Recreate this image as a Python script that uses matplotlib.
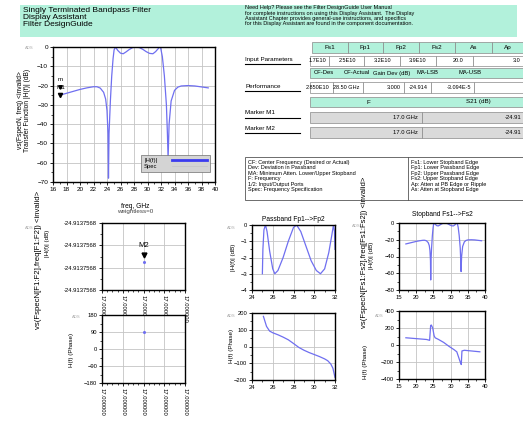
import numpy as np
import matplotlib
matplotlib.use('Agg')
import matplotlib.pyplot as plt
from matplotlib.patches import Rectangle
from matplotlib.lines import Line2D
from matplotlib.ticker import FormatStrFormatter, AutoMinorLocator

plt.rcParams['font.family'] = ['Liberation Sans', 'DejaVu Sans']

main_f = [17.0, 18.0, 19.0, 20.0, 21.0, 22.0, 22.5, 23.0, 23.5, 23.8, 24.0, 24.15, 24.22, 24.3,
          24.5, 24.7, 24.9, 25.05, 25.25, 25.6, 26.0, 26.4, 26.8, 27.3, 27.8, 28.3, 28.8, 29.3,
          29.8, 30.3, 30.8, 31.2, 31.5, 31.8, 31.95, 32.2, 32.5, 32.8, 32.95, 33.05, 33.2, 33.5,
          34.0, 34.5, 35.0, 36.0, 37.0, 38.0, 39.0]
main_db = [-25.0, -24.0, -23.0, -22.0, -21.2, -20.6, -20.6, -21.3, -23.5, -27.0, -33.0, -45.0,
           -68.0, -45.0, -28.0, -15.0, -6.0, -1.5, 0.0, -1.8, -3.2, -3.5, -2.6, -1.3, -0.3, 0.0,
           -0.3, -1.2, -2.4, -3.3, -3.5, -2.4, -1.2, 0.0, -0.5, -5.0, -15.0, -30.0, -45.0, -58.0,
           -40.0, -28.0, -22.5, -20.8, -20.2, -20.0, -20.2, -20.7, -21.2]
spec_f = [22.0, 23.0, 24.0]
spec_db = [-20.0, -20.0, -20.0]
spec_f2 = [34.0, 35.0, 36.0]
spec_db2 = [-20.0, -20.0, -20.0]

m1_f, m1_db = 17.0, -24.9137568
m2_f, m2_db, m2_ph = 17.0, -24.9137568, 88.0

pb_f = [25.0, 25.05, 25.15, 25.3, 25.45, 25.7, 26.0, 26.2, 26.5, 27.0, 27.5, 28.0, 28.3, 28.7,
        29.2, 29.7, 30.2, 30.6, 31.0, 31.4, 31.7, 31.85, 31.95, 32.0]
pb_db = [-3.0, -1.5, -0.3, 0.0, -0.4, -1.6, -2.7, -3.0, -2.8, -2.0, -1.0, -0.15, 0.0, -0.4,
         -1.3, -2.2, -2.8, -3.0, -2.7, -1.7, -0.6, 0.0, -0.4, -1.5]
pb_ph_f = [25.1, 25.4, 25.7, 26.0, 26.5, 27.0, 27.5, 28.0, 28.5, 29.0, 29.5, 30.0, 30.5, 31.0,
           31.3, 31.6, 31.8, 32.0]
pb_ph = [180, 120, 92, 82, 70, 56, 40, 18, -5, -22, -36, -48, -60, -74, -85, -105, -130, -185]

sb_ph_f = [17.0, 20.0, 23.0, 23.9, 24.2, 24.4, 24.8, 25.2, 25.5, 26.5, 28.0, 29.5, 31.0, 31.8,
           32.3, 32.8, 33.1, 33.3, 34.0, 36.0, 38.5]
sb_ph = [85, 75, 65, 55, 230, 235, 200, 110, 85, 65, 30, -15, -55, -80, -140, -200, -230, -70,
         -62, -70, -80]

in_head = ['Fs1', 'Fp1', 'Fp2', 'Fs2', 'As', 'Ap']
in_vals = ['1.7E10', '2.5E10', '3.2E10', '3.9E10', '20.0', '3.0']
perf_head = ['CF-Des', 'CF-Actual', 'Gain Dev (dB)', 'MA-LSB', 'MA-USB']
perf_vals = ['2.850E10', '28.50 GHz', '3.000', '-24.914', '-3.094E-5']
mk_head = ['F', 'S21 (dB)']
mk_rows = [('Marker M1', '17.0 GHz', '-24.91'), ('Marker M2', '17.0 GHz', '-24.91')]

notes_left = ['CF: Center Frequency (Desired or Actual)', 'Dev: Deviation in Passband',
              'MA: Minimum Atten. Lower/Upper Stopband', 'F: Frequency',
              '1/2: Input/Output Ports', 'Spec: Frequency Specification']
notes_right = ['Fs1: Lower Stopband Edge', 'Fp1: Lower Passband Edge', 'Fp2: Upper Passband Edge',
               'Fs2: Upper Stopband Edge', 'Ap: Atten at PB Edge or Ripple',
               'As: Atten at Stopband Edge']
help_lines = ['Need Help? Please see the Filter DesignGuide User Manual',
              'for complete instructions on using this Display Assistant.  The Display',
              'Assistant Chapter provides general-use instructions, and specifics',
              'for this Display Assistant are found in the component documentation.']
title_lines = ['Singly Terminated Bandpass Filter', 'Display Assistant', 'Filter DesignGuide']

W, H = 523, 422
BLUE = '#6f6ff0'
MINT = '#b2f1db'
GRAY = '#dadada'

fig = plt.figure(figsize=(W / 100, H / 100), dpi=100)


def box(x0, y0, x1, y1):
    return [x0 / W, 1 - y1 / H, (x1 - x0) / W, (y1 - y0) / H]


def ftxt(x, y, s, **kw):
    kw.setdefault('fontsize', 4.3)
    kw.setdefault('va', 'center')
    fig.text(x / W, 1 - y / H, s, **kw)


def frect(x0, y0, x1, y1, fc, ec='#888888', lw=0.5):
    fig.add_artist(Rectangle((x0 / W, 1 - y1 / H), (x1 - x0) / W, (y1 - y0) / H,
                             transform=fig.transFigure, fc=fc, ec=ec, lw=lw))


def fline(x0, y0, x1, y1, c='black', lw=0.8):
    fig.add_artist(Line2D([x0 / W, x1 / W], [1 - y0 / H, 1 - y1 / H], color=c, lw=lw,
                          transform=fig.transFigure))


def style(ax, fs=4.3):
    for s in ax.spines.values():
        s.set_linewidth(1.0)
    ax.grid(True, color='#c4c4c4', lw=0.6)
    ax.tick_params(labelsize=fs, length=2.5, width=0.6, pad=1)
    ax.xaxis.set_minor_locator(AutoMinorLocator(2))
    ax.yaxis.set_minor_locator(AutoMinorLocator(2))
    ax.tick_params(which='minor', length=1.6, width=0.5)


# ---- banner ----
frect(20, 5, 517, 37, MINT, ec='none')
for i, s in enumerate(title_lines):
    ftxt(23, 10 + i * 7.5, s, fontsize=6)
for i, s in enumerate(help_lines):
    ftxt(245, 8 + i * 5.2, s, fontsize=4)

# ---- main transfer function ----
ax = fig.add_axes(box(53, 47, 215, 182))
ax.plot(spec_f, spec_db, color='#d0d0d0', lw=0.6, label='Spec')
ax.plot(spec_f2, spec_db2, color='#d0d0d0', lw=0.6)
ax.plot(main_f, main_db, color=BLUE, lw=0.9)
ax.set_xlim(16, 40)
ax.set_ylim(-70, 0)
ax.set_xticks(np.arange(16, 41, 2))
ax.set_yticks(np.arange(-70, 1, 10))
style(ax, 4.6)
ax.plot([m1_f], [m1_db], marker='v', color='black', ms=3)
ax.plot([m1_f], [-20.5], marker='v', color='black', ms=2.5)
ax.text(m1_f, -17.5, 'm', fontsize=4.5, ha='center')
ax.text(m1_f + 0.2, -22, 'M1', fontsize=4.5, ha='center')
h_line = Line2D([], [], color='#3b3bef', lw=2)
h_spec = Line2D([], [], color='#c8c8c8', lw=0.6)
leg = ax.legend([h_line, h_spec], ['|H(f)|', 'Spec'], loc='lower right', fontsize=4.2,
                markerfirst=False, fancybox=False, facecolor='#d4d4d4', edgecolor='#707070',
                framealpha=1, handlelength=6, handletextpad=2.5, borderpad=0.5,
                labelspacing=0.2, bbox_to_anchor=(0.985, 0.05))
leg.get_frame().set_linewidth(0.5)
ftxt(25, 48, 'ADS', fontsize=3, color='#aaaaaa')
ftxt(21, 110, 'vs(FspecN, freq) <invalid>', rotation=90, ha='center', fontsize=4.8)
ftxt(28, 110, 'Transfer Function |H(f)| (dB)', rotation=90, ha='center', fontsize=4.8)
ftxt(135, 206, 'freq, GHz', ha='center', fontsize=4.8)
ftxt(135, 212, 'weightless=0', ha='center', fontsize=4.5, color='#444444')

# ---- tables ----
xs_h = [312, 348, 383, 419, 455, 492, 523]
for i, s in enumerate(in_head):
    frect(xs_h[i], 42, xs_h[i + 1], 53, MINT)
    ftxt((xs_h[i] + xs_h[i + 1]) / 2, 47.5, s, ha='center', fontsize=4.6)
xs_v = [310, 329, 364, 400, 436, 473, 523]
in_right = [326, 356, 391, 426, 463, 520]
for i, s in enumerate(in_vals):
    frect(xs_v[i], 56, xs_v[i + 1], 66, 'white')
    ftxt(in_right[i], 61, s, ha='right', fontsize=4.0)
ftxt(245, 59, 'Input Parameters', fontsize=4.5)
fline(245, 64, 300, 64)

frect(310, 68, 523, 78, MINT)
perf_x = [324, 357, 392, 427, 470]
for x, s in zip(perf_x, perf_head):
    ftxt(x, 73, s, ha='center', fontsize=4.2)
xs_p = [310, 333, 363, 404, 431, 474, 523]
perf_right = [329, 359, 401, 428, 471]
for i in range(len(xs_p) - 1):
    frect(xs_p[i], 82, xs_p[i + 1], 93, 'white')
for x, s in zip(perf_right, perf_vals):
    ftxt(x, 87.5, s, ha='right', fontsize=4.0)
ftxt(245, 86, 'Performance', fontsize=4.5)
fline(245, 91, 300, 91)

frect(310, 97, 523, 107, MINT)
ftxt(368, 102, mk_head[0], ha='center', fontsize=4.5)
ftxt(478, 102, mk_head[1], ha='center', fontsize=4.5)
for j, (lab, f, v) in enumerate(mk_rows):
    y0 = 112 + j * 15
    frect(310, y0, 422, y0 + 11, GRAY)
    frect(422, y0, 523, y0 + 11, GRAY)
    ftxt(418, y0 + 5.5, f, ha='right', fontsize=4.2)
    ftxt(521, y0 + 5.5, v, ha='right', fontsize=4.2)
    ftxt(245, y0 + 1, lab, fontsize=4.5)
    fline(245, y0 + 6, 300, y0 + 6)

# ---- notes box ----
frect(245, 157, 523, 200, 'white', ec='#555555', lw=0.6)
fline(408, 157, 408, 200, c='#555555', lw=0.6)
for i, s in enumerate(notes_left):
    ftxt(248, 162 + i * 5.6, s, fontsize=4)
for i, s in enumerate(notes_right):
    ftxt(411, 162 + i * 5.6, s, fontsize=4)

# ---- M2 plots ----
lo, hi = m2_db - 0.52e-8, m2_db + 0.48e-8
ax2 = fig.add_axes(box(102, 223, 185, 290))
ax2.plot([m2_f], [m2_db], marker='v', color='black', ms=3.5)
ax2.plot([m2_f], [m2_db - 0.1e-8], marker='o', color=BLUE, ms=1.2)
ax2.text(m2_f, m2_db + 0.12e-8, 'M2', ha='center', fontsize=5.5)
ax2.set_ylim(lo, hi)
ax2.set_yticks(np.linspace(lo, hi, 4))
ax2.yaxis.set_major_formatter(FormatStrFormatter('%.7f'))
ax2.set_xlim(m2_f - 2e-9, m2_f + 2e-9)
ax2.set_xticks(np.linspace(m2_f - 2e-9, m2_f + 2e-9, 5))
ax2.xaxis.set_major_formatter(FormatStrFormatter('%.6f'))
style(ax2, 4.2)
ax2.xaxis.set_minor_locator(AutoMinorLocator(4))
for t in ax2.get_xticklabels():
    t.set_rotation(-90)
ftxt(25, 228, 'ADS', fontsize=3, color='#aaaaaa')
ftxt(39, 260, 'vs(FspecN[F1:F2],freq[F1:F2]) <invalid>', rotation=90, ha='center',
     fontsize=5.6)
ftxt(47, 243, '|H(f)| (dB)', rotation=90, ha='center', fontsize=4.5)

ax3 = fig.add_axes(box(102, 315, 185, 383))
ax3.plot([m2_f], [m2_ph], marker='o', color=BLUE, ms=1.2)
ax3.set_ylim(-180, 180)
ax3.set_yticks([-180, -90, 0, 90, 180])
ax3.set_xlim(m2_f - 2e-9, m2_f + 2e-9)
ax3.set_xticks(np.linspace(m2_f - 2e-9, m2_f + 2e-9, 5))
ax3.xaxis.set_major_formatter(FormatStrFormatter('%.6f'))
style(ax3, 4.2)
ax3.xaxis.set_minor_locator(AutoMinorLocator(4))
for t in ax3.get_xticklabels():
    t.set_rotation(-90)
ftxt(72, 317, 'ADS', fontsize=3, color='#aaaaaa')
ftxt(72, 350, 'H(f) (Phase)', rotation=90, ha='center', fontsize=4.5)

# ---- passband ----
ax4 = fig.add_axes(box(252, 225, 335, 290))
ax4.plot(pb_f, pb_db, color=BLUE, lw=0.9)
ax4.set_xlim(24, 32)
ax4.set_ylim(-4, 0)
ax4.set_xticks([24, 26, 28, 30, 32])
ax4.set_yticks([-4, -3, -2, -1, 0])
style(ax4, 4.2)
ax4.set_title('Passband Fp1-->Fp2', fontsize=4.8, pad=3)
ftxt(227, 228, 'ADS', fontsize=3, color='#aaaaaa')
ftxt(233, 257, '|H(f)| (dB)', rotation=90, ha='center', fontsize=4.5)

ax5 = fig.add_axes(box(252, 313, 335, 380))
ax5.plot(pb_ph_f, pb_ph, color=BLUE, lw=0.9)
ax5.set_xlim(24, 32)
ax5.set_ylim(-200, 200)
ax5.set_xticks([24, 26, 28, 30, 32])
ax5.set_yticks([-200, -100, 0, 100, 200])
style(ax5, 4.2)
ftxt(227, 316, 'ADS', fontsize=3, color='#aaaaaa')
ftxt(231, 346, 'H(f) (Phase)', rotation=90, ha='center', fontsize=4.5)

# ---- stopband ----
ax6 = fig.add_axes(box(399, 223, 485, 290))
ax6.plot(main_f, main_db, color=BLUE, lw=0.9)
ax6.set_xlim(15, 40)
ax6.set_ylim(-80, 0)
ax6.set_xticks([15, 20, 25, 30, 35, 40])
ax6.set_yticks([-80, -60, -40, -20, 0])
style(ax6, 4.2)
ax6.set_title('Stopband Fs1-->Fs2', fontsize=4.8, pad=5)
ftxt(352, 226, 'ADS', fontsize=3, color='#aaaaaa')
ftxt(365, 252, 'vs(FspecN[Fs1:Fs2],freq[Fs1:Fs2]) <invalid>', rotation=90, ha='center',
     fontsize=5.5)
ftxt(372, 255, '|H(f)| (dB)', rotation=90, ha='center', fontsize=4.5)

ax7 = fig.add_axes(box(399, 311, 485, 379))
ax7.plot(sb_ph_f, sb_ph, color=BLUE, lw=0.9)
ax7.set_xlim(15, 40)
ax7.set_ylim(-400, 400)
ax7.set_xticks([15, 20, 25, 30, 35, 40])
ax7.set_yticks([-400, -200, 0, 200, 400])
style(ax7, 4.2)
ftxt(375, 316, 'ADS', fontsize=3, color='#aaaaaa')
ftxt(365, 362, 'H(f) (Phase)', rotation=90, ha='center', fontsize=4.5)

fig.savefig('out.png', dpi=100)
